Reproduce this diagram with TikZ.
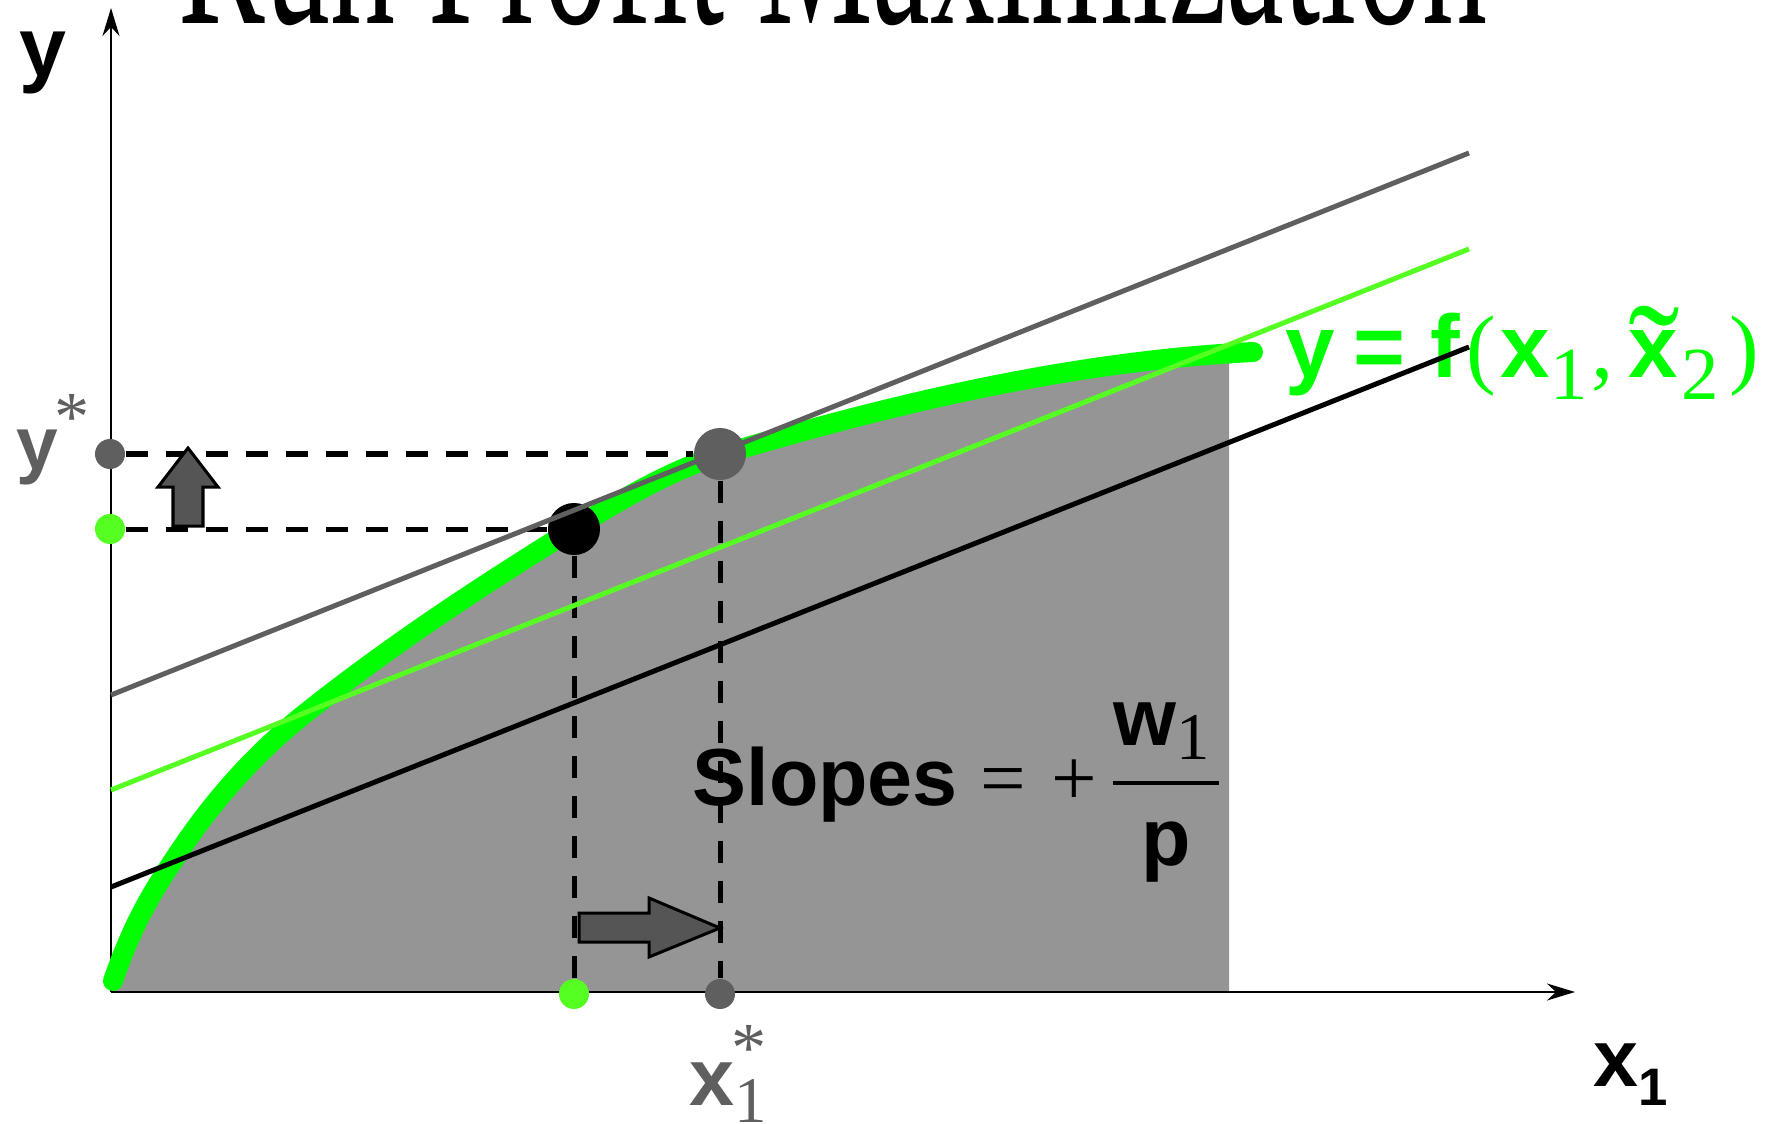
\documentclass[tikz,border=0pt]{standalone}
\usepackage{amsmath}
\usepackage{graphicx}
\usepackage{fontspec}
\setmainfont{Liberation Serif}
\setsansfont{Liberation Sans}
\usepackage{xcolor}
\usepackage{tikz}
\usetikzlibrary{arrows.meta,positioning}
\definecolor{prodgreen}{HTML}{00FF00}
\definecolor{isogreen}{HTML}{55FF22}
\definecolor{ptgray}{HTML}{5F5F5F}
\definecolor{areagray}{HTML}{959595}
\definecolor{arrowgray}{HTML}{555555}
\newcommand{\subser}[1]{\rmfamily\mdseries\fontsize{#1}{#1}\selectfont}
\newcommand{\bigtilde}{\rlap{\raisebox{-0.33cm}{\subser{44}\symbol{"02DC}}}}
\newcommand{\prodpath}{(113,981) .. controls (134,920) and (155,888) .. (175,858)
  .. controls (217,794) and (260,750) .. (302,716)
  .. controls (392,644) and (483,585) .. (573,529)
  .. controls (622,499) and (671,470) .. (720,455)
  .. controls (898,402) and (1075,361) .. (1253,352)}

\begin{document}
\begin{tikzpicture}[
    x=0.01cm, y=-0.01cm,
    lab/.style={inner sep=0pt, anchor=base west,
                font=\sffamily\bfseries\fontsize{23}{27}\selectfont},
    starlab/.style={inner sep=0pt, anchor=base, text=ptgray,
                font=\rmfamily\fontsize{20}{24}\selectfont},
    axis/.style={line width=0.02cm, -{Stealth[length=0.28cm,width=0.17cm,inset=0.09cm]}},
    iso/.style={line width=0.05cm},
    guide/.style={line width=0.05cm, dash pattern=on 0.22cm off 0.18cm},
    bigdot/.style={circle, inner sep=0pt, minimum size=0.52cm},
    smalldot/.style={circle, inner sep=0pt, minimum size=0.30cm},
    blockarr/.style={fill=arrowgray, draw=black, line width=0.03cm, line join=miter},
  ]
  \useasboundingbox (0,0) rectangle (1765,1124);
  \clip (0,0) rectangle (1765,1124);

  \node[anchor=base west, inner sep=0pt, font=\rmfamily\fontsize{37}{44}\selectfont]
    (title) at (178,23) {\scalebox{1}[1.8]{Run Profit Maximization}};

  % area under the production function
  \begin{scope}
    \clip (111,0) rectangle (1229,992);
    \fill[areagray] \prodpath -- (1253,992) -- (111,992) -- cycle;
  \end{scope}

  \coordinate (o) at (111,992);
  \coordinate (xtip) at (1575,992);
  \coordinate (ytip) at (111,8);
  \draw[axis] (o) -- (xtip);
  \draw[axis] (o) -- (ytip);

  \draw[prodgreen, line width=0.2cm, line cap=round] \prodpath;

  \node[bigdot, fill=black] (blk) at (574,529) {};
  \node[bigdot, fill=ptgray] (opt) at (720,454) {};
  \node[smalldot, fill=ptgray] (ystar) at (110,454) {};
  \node[smalldot, fill=isogreen] (yold) at (110,529) {};
  \node[smalldot, fill=isogreen] (xold) at (574,994) {};
  \node[smalldot, fill=ptgray] (xstar) at (720,994) {};

  \draw[guide] (ystar) -- (opt);
  \draw[guide] (yold) -- (blk);
  \draw[guide] (blk) -- (xold);
  \draw[guide] (opt) -- (xstar);

  \draw[blockarr] (173,526) -- (173,487) -- (158,487) -- (188,448) -- (218,487)
    -- (203,487) -- (203,526) -- cycle;
  \draw[blockarr] (579,913) -- (649,913) -- (649,898) -- (720,928) -- (649,957)
    -- (649,942) -- (579,942) -- cycle;

  \node[lab, font=\sffamily\bfseries\fontsize{24}{28}\selectfont] (ylab) at (19,77) {y};
  \node[lab, text=ptgray, font=\sffamily\bfseries\fontsize{21.3}{25}\selectfont] (ystarlab) at (16,469) {y};
  \node[starlab] (ystarsym) at (72,440) {*};
  \node[lab, text=ptgray] (xstarlab) at (689,1105)
    {x\raisebox{-0.17cm}{\subser{18.5}1}};
  \node[starlab] (xstarsym) at (749,1071) {*};
  \node[lab] (xlab) at (1593,1086)
    {x\raisebox{-0.19cm}{\fontsize{15}{18}\selectfont 1}};
  \node[lab] (slopes) at (692,805)
    {Slopes\hspace{0.225cm}{\rmfamily\mdseries =}\hspace{0.255cm}{\rmfamily\mdseries +}\hspace{0.12cm}$\dfrac{\text{w}_{\text{\subser{19}1}}\hspace{0.08cm}}{\text{p}}$};
  \node[lab, text=prodgreen, font=\sffamily\bfseries\fontsize{25.3}{30}\selectfont] (flab) at (1285,377)
    {y\hspace{0.185cm}=\hspace{0.25cm}f\hspace{0.06cm}{\rmfamily\mdseries(}\hspace{0.05cm}x\raisebox{-0.22cm}{\subser{21.3}1}\hspace{0.04cm}{\rmfamily\mdseries ,}\hspace{0.14cm}\bigtilde x\hspace{0.04cm}\raisebox{-0.22cm}{\subser{21.3}2}\hspace{0.1cm}{\rmfamily\mdseries )}};

  % isoprofit lines
  \draw[iso, ptgray] (111,695) -- (1469,153);
  \draw[iso, isogreen] (111,790) -- (1469,249);
  \draw[iso, black] (111,887) -- (1469,347);
\end{tikzpicture}
\end{document}
